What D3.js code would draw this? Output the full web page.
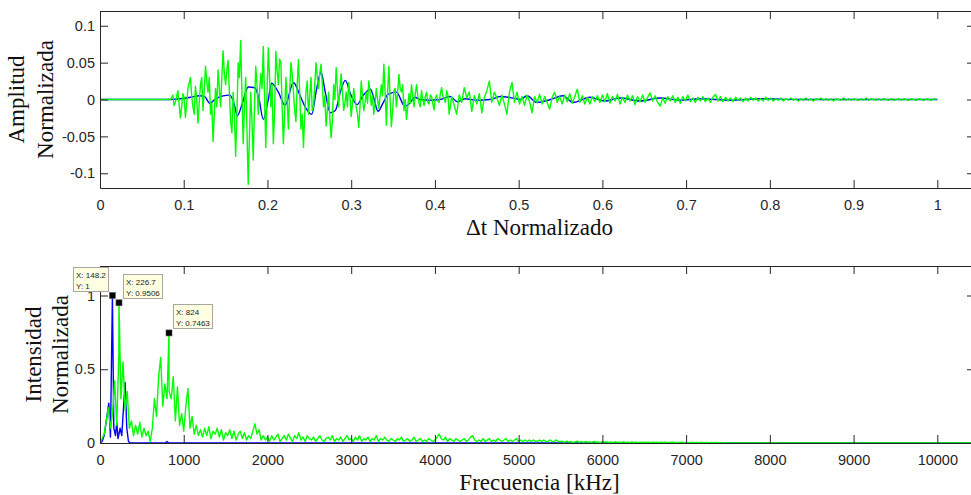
<!DOCTYPE html>
<html>
<head>
<meta charset="utf-8">
<script src="https://cdn.jsdelivr.net/npm/d3@7"></script>
<style>
  html, body { margin: 0; padding: 0; background: #fff; }
  svg { display: block; }
</style>
</head>
<body>
<svg id="fig" width="971" height="495"></svg>
<script>
// ---------- time-domain records (normalised time) ----------
// wide-band record: finely sampled burst, then a coarser decaying tail
const ampHeadStart = 0.084, ampHeadStep = 0.0015;
const ampGreenHead = [
  0, 0.002, 0.006, -0.008, -0.004, 0.004, 0.012, -0.006, -0.025, -0.010,
  0.008, 0.002, -0.024, -0.006, 0.015, 0.022, 0.030, 0.005, -0.010, -0.020,
  0.018, 0.000, -0.032, -0.005, 0.020, 0.030, -0.015, 0.012, 0.045, 0.025,
  0.010, 0.030, -0.020, -0.005, -0.057, -0.020, 0.015, -0.010, 0.040, 0.015,
  -0.010, 0.030, 0.066, 0.035, 0.020, 0.040, 0.053, 0.010, -0.030, -0.045,
  0.010, -0.020, -0.077, -0.020, 0.050, 0.030, 0.080, 0.010, -0.060, -0.010,
  0.030, -0.040, -0.115, -0.050, 0.010, -0.030, -0.082, -0.010, 0.045, 0.020,
  -0.020, 0.010, 0.035, 0.015, 0.072, 0.005, -0.065, 0.010, 0.070, 0.030,
  -0.010, 0.020, -0.060, -0.020, 0.065, 0.040, 0.020, 0.055, 0.050, -0.010,
  -0.060, -0.020, 0.030, 0.000, -0.040, 0.010, 0.050, 0.035, 0.010, -0.015,
  -0.030, 0.020, 0.054, 0.010, -0.040, -0.020, -0.065, -0.020, 0.010, 0.025,
  -0.020, 0.005, 0.030, -0.015, -0.010, 0.020, 0.050, 0.030, 0.015, 0.035,
  0.048, 0.020, -0.010, 0.005, -0.036, -0.015, 0.010, -0.025, -0.052, -0.030,
  0.020, 0.000, 0.043, 0.015, -0.010, 0.015, 0.035, 0.010, -0.015, -0.005,
  0.010, -0.010, 0.023, 0.005, -0.023, -0.005, 0.015, 0.000, -0.010, -0.020,
  -0.038, -0.010, 0.025, 0.005, -0.015, -0.005, 0.010, -0.005, 0.025, 0.010,
  -0.008, 0.005, -0.020, -0.005, 0.015, 0.000, -0.012, 0.005, 0.020, 0.005,
  0.048, 0.010, -0.035, 0.010, 0.045, 0.000, -0.037, -0.015, 0.012, 0.015,
  -0.010, 0.010, 0.034, 0.015, 0.010, 0.020, -0.015, 0.000, -0.027, -0.010,
  0.008, -0.005, 0.020, 0.005, -0.010, 0.008, 0.020, 0.005, -0.005, -0.010,
  0.012, 0.000, -0.008, 0.004, 0.010, -0.004, -0.006, 0.006, 0.004, -0.006,
  -0.014, 0.002, 0.006, -0.002, -0.004, 0.008, 0.016, 0.004, 0.002, -0.004,
  0.012, 0.006, -0.020, -0.008, 0.004
];
const ampTailStart = 0.423, ampTailStep = 0.003;
const ampGreenTail = [
  -0.008, -0.020, 0.006, -0.004, 0.016, 0.002, 0.010,
  -0.016, 0.005, -0.006, 0.008, -0.018, 0.003, 0.012, 0.025, -0.004, 0.010,
  0.002, -0.008, 0.006, -0.006, -0.020, 0.010, 0.023, -0.004, 0.010, -0.006,
  0.004, -0.008, 0.006, -0.003, -0.018, 0.004, -0.004, 0.007, -0.006, 0.004,
  -0.004, -0.013, 0.003, 0.010, -0.004, 0.004, -0.006, 0.006, -0.003, 0.008,
  -0.005, 0.004, 0.014, -0.004, 0.005, -0.006, 0.003, -0.006, 0.004, -0.003,
  0.005, -0.004, 0.006, -0.003, 0.008, -0.005, 0.004, -0.002, 0.007, -0.006,
  0.003, -0.004, 0.006, -0.002, 0.005, -0.007, 0.004, -0.003, 0.006, -0.004,
  0.003, 0.009, -0.002, 0.005, -0.004, -0.009, 0.002, -0.005, 0.004, -0.002,
  0.005, -0.004, 0.003, -0.005, 0.004, -0.002, 0.006, -0.003, 0.002, -0.004,
  0.003, -0.002, 0.004, -0.003, 0.002, -0.004, 0.003, 0.007, -0.002, 0.004,
  -0.003, 0.003, -0.002, 0.002, -0.003, 0.003, -0.001, 0.002, -0.003, 0.002,
  -0.002, 0.003, -0.001, 0.002, -0.002, 0.001, -0.002, 0.003, -0.001, 0.002,
  -0.002, 0.001, -0.001, 0.002, -0.002, 0.001, -0.001, 0.002, -0.001, 0.001,
  -0.002, 0.001, -0.001, 0.002, -0.001, 0.001, -0.002, 0.001, 0, 0.002,
  -0.001, 0.001, -0.001, 0.001, -0.002, 0.001, 0, -0.001, 0.002, -0.001,
  0.001, -0.001, 0.001, 0, -0.001, 0.001, -0.001, 0.002, -0.001, 0.001,
  0, -0.001, 0.001, -0.001, 0.001, 0, -0.001, 0.001, -0.001, 0,
  0.001, -0.001, 0.001, 0, -0.001, 0.001, 0, -0.001, 0.001, 0,
  -0.001, 0.001, 0, -0.001, 0.001, 0
];
// band-limited record
const ampBlueT = [
  0, 0.084, 0.096, 0.108, 0.119, 0.125, 0.131, 0.137, 0.147, 0.155,
  0.160, 0.164, 0.170, 0.177, 0.185, 0.190, 0.195, 0.201, 0.205, 0.213,
  0.221, 0.231, 0.239, 0.246, 0.253, 0.258, 0.264, 0.269, 0.275, 0.281,
  0.287, 0.293, 0.299, 0.307, 0.314, 0.323, 0.327, 0.332, 0.338, 0.344,
  0.354, 0.364, 0.370, 0.376, 0.382, 0.394, 0.406, 0.418, 0.427, 0.436,
  0.450, 0.466, 0.478, 0.493, 0.502, 0.510, 0.522, 0.538, 0.553, 0.565,
  0.585, 0.603, 0.621, 0.645, 0.669, 0.693, 0.717, 0.753, 0.789, 0.836,
  0.896, 1.0
];
const ampBlueV = [
  0, 0, 0.001, 0.003, 0.005, 0.004, -0.005, 0.000, 0.005, 0.006,
  -0.005, -0.022, -0.005, 0.017, 0.016, 0.000, -0.027, 0.000, 0.022, 0.010,
  -0.008, 0.023, 0.005, -0.012, -0.020, 0.010, 0.037, 0.010, -0.018, -0.015,
  0.010, 0.026, 0.008, -0.007, 0.005, 0.014, 0.002, -0.016, -0.005, 0.007,
  0.010, -0.009, -0.005, 0.003, 0.000, -0.001, 0.000, 0.004, -0.003, 0.001,
  -0.001, 0.000, 0.004, 0.002, 0.000, 0.005, -0.004, 0.000, 0.005, -0.004,
  0.003, -0.002, 0.002, -0.002, 0.002, -0.001, 0.001, -0.001, 0.001, 0.000,
  0.000, 0.000
];
const ampXTicks = [0, 0.1, 0.2, 0.3, 0.4, 0.5, 0.6, 0.7, 0.8, 0.9, 1];
const ampXLabels = ["0", "0.1", "0.2", "0.3", "0.4", "0.5", "0.6", "0.7", "0.8", "0.9", "1"];
const ampYTicks = [-0.1, -0.05, 0, 0.05, 0.1];
const ampYLabels = ["-0.1", "-0.05", "0", "0.05", "0.1"];

// ---------- spectra (kHz) ----------
const specStep = 25;      // frequency resolution of the wide-band spectrum
const specGreen = [
  0, 0.03, 0.06, 0.15, 0.24, 0.10, 0.20, 0.42, 0.12, 0.60,
  0.30, 0.55, 0.22, 0.35, 0.10, 0.15, 0.05, 0.12, 0.06, 0.14,
  0.04, 0.10, 0.05, 0.08, 0.01, 0.10, 0.30, 0.18, 0.45, 0.58,
  0.25, 0.40, 0.30, 0.35, 0.30, 0.45, 0.15, 0.38, 0.12, 0.20,
  0.08, 0.25, 0.37, 0.10, 0.18, 0.06, 0.12, 0.05, 0.09, 0.04,
  0.10, 0.05, 0.11, 0.03, 0.08, 0.06, 0.10, 0.04, 0.09, 0.02,
  0.07, 0.05, 0.09, 0.03, 0.08, 0.02, 0.06, 0.08, 0.03, 0.07,
  0.02, 0.05, 0.03, 0.08, 0.13, 0.06, 0.09, 0.02, 0.05, 0.02,
  0.04, 0.01, 0.05, 0.02, 0.04, 0.06, 0.01, 0.03, 0.05, 0.02,
  0.06, 0.03, 0.01, 0.05, 0.03, 0.07, 0.02, 0.04, 0.01, 0.05,
  0.03, 0.02, 0.04, 0.01, 0.03, 0.05, 0.02, 0.01, 0.03, 0.04,
  0.02, 0.05, 0.01, 0.03, 0.02, 0.04, 0.01, 0.03, 0.05, 0.02,
  0.03, 0.01, 0.04, 0.02, 0.05, 0.01, 0.03, 0.02, 0.04, 0.01,
  0.03, 0.02, 0.05, 0.01, 0.03, 0.02, 0.04, 0.02, 0.01, 0.03,
  0.02, 0.01, 0.03, 0.02, 0.04, 0.01, 0.02, 0.03, 0.01, 0.02,
  0.04, 0.01, 0.02, 0.03, 0.01, 0.02, 0.01, 0.03, 0.02, 0.01,
  0.02, 0.04, 0.06, 0.03, 0.02, 0.04, 0.01, 0.03, 0.02, 0.01,
  0.03, 0.02, 0.01, 0.02, 0.03, 0.01, 0.02, 0.04, 0.05, 0.02,
  0.01, 0.02, 0.01, 0.03, 0.01, 0.02, 0.03, 0.01, 0.02, 0.01,
  0.03, 0.02, 0.01, 0.02, 0.03, 0.01, 0.02, 0.01, 0.02, 0.03,
  0.01, 0.02, 0.01, 0.02, 0.01, 0.02, 0.01, 0.02, 0.01, 0.01,
  0.02, 0.01, 0.02, 0.01, 0.01, 0.02, 0.01, 0.01, 0.02, 0.01,
  0.01, 0.01, 0.005, 0.012, 0.006, 0.01, 0.004, 0.008, 0.012, 0.005,
  0.009, 0.004, 0.01, 0.006, 0.008, 0.004, 0.011, 0.005, 0.007, 0.003,
  0.009, 0.005, 0.008, 0.004, 0.007, 0.003, 0.008, 0.005, 0.006, 0.003,
  0.008, 0.004, 0.006, 0.003, 0.007, 0.004, 0.006, 0.002, 0.006, 0.003,
  0.005, 0.003, 0.006, 0.002, 0.005, 0.004, 0.006, 0.002, 0.005, 0.003,
  0.006, 0.002, 0.004, 0.003, 0.005, 0.002, 0.004, 0.003, 0.005, 0.002,
  0.004, 0.002, 0.004, 0.003, 0.002, 0.004, 0.002, 0.003, 0.004, 0.002,
  0.003, 0.002, 0.003, 0.001, 0.003, 0.002, 0.002, 0.001, 0.002, 0.001,
  0
];
const specBlueF = [0, 25, 50, 75, 105, 125, 165, 185, 200, 215, 240, 260, 300, 320, 340, 360, 780, 800, 820];
const specBlueV = [0, 0.01, 0.05, 0.15, 0.27, 0.04, 0.10, 0.05, 0.14, 0.03, 0.10, 0.05, 0.41, 0.10, 0.01, 0, 0, 0.01, 0];
const specXTicks = [0, 1000, 2000, 3000, 4000, 5000, 6000, 7000, 8000, 9000, 10000];
const specXLabels = ["0", "1000", "2000", "3000", "4000", "5000", "6000", "7000", "8000", "9000", "10000"];
const specYTicks = [0, 0.5, 1];
const specYLabels = ["0", "0.5", "1"];

// data tips on the spectrum peaks
const tipF = [148.2, 226.7, 824];
const tipY = [1, 0.9506, 0.7463];
const tipSeries = ["blue", "green", "green"];
const tipSide = ["left", "right", "right"];

// ---------- drawing ----------
const svg = d3.select("#fig");
const defs = svg.append("defs");
const AXIS = "#262626";
const GREEN = "#00ff00";
const BLUE = "#0000ff";
const TICK_FONT = "'Liberation Sans', Arial, Helvetica, sans-serif";
const LABEL_FONT = "'Liberation Serif', 'Times New Roman', serif";

function drawPanel(o) {
  const g = svg.append("g");
  const [L, R] = o.x.range();
  const [B, T] = o.y.range();
  defs.append("clipPath").attr("id", o.id)
    .append("rect").attr("x", L).attr("y", T).attr("width", R - L).attr("height", B - T);
  const plot = g.append("g").attr("clip-path", `url(#${o.id})`);
  o.series.forEach(s => {
    plot.append("path")
      .datum(s.pts)
      .attr("fill", "none")
      .attr("stroke", s.color)
      .attr("stroke-width", s.width)
      .attr("stroke-linejoin", "round")
      .attr("d", d3.line().x(d => o.x(d[0])).y(d => o.y(d[1])).curve(s.curve || d3.curveLinear));
  });

  const axes = g.append("g");
  axes.append("g").attr("transform", `translate(0,${B})`)
    .call(d3.axisBottom(o.x).tickValues(o.xTicks).tickFormat((d, i) => o.xLabels[i])
      .tickSizeInner(-8).tickSizeOuter(0).tickPadding(12));
  axes.append("g").attr("transform", `translate(0,${T})`)
    .call(d3.axisTop(o.x).tickValues(o.xTicks).tickFormat("")
      .tickSizeInner(-8).tickSizeOuter(0));
  axes.append("g").attr("transform", `translate(${L},0)`)
    .call(d3.axisLeft(o.y).tickValues(o.yTicks).tickFormat((d, i) => o.yLabels[i])
      .tickSizeInner(-8).tickSizeOuter(0).tickPadding(5));
  axes.append("g").attr("transform", `translate(${R},0)`)
    .call(d3.axisRight(o.y).tickValues(o.yTicks).tickFormat("")
      .tickSizeInner(-8).tickSizeOuter(0));
  axes.selectAll(".domain, .tick line").attr("stroke", AXIS).attr("stroke-width", 1);
  axes.selectAll("text")
    .attr("fill", AXIS)
    .style("font-family", TICK_FONT)
    .style("font-size", "14.5px");

  // axis titles
  g.append("text")
    .attr("x", (L + R) / 2 + 2).attr("y", o.xTitleY)
    .attr("text-anchor", "middle")
    .style("font-family", LABEL_FONT).style("font-size", "23px").attr("fill", "#111")
    .text(o.xTitle);
  o.yTitle.forEach((line, i) => {
    g.append("text")
      .attr("transform", `translate(${o.yTitleX[i]},${(T + B) / 2}) rotate(-90)`)
      .attr("text-anchor", "middle")
      .style("font-family", LABEL_FONT).style("font-size", "23px").attr("fill", "#111")
      .text(line);
  });
  return g;
}

// top panel: time signals
const xAmp = d3.scaleLinear().domain([0, 1.045]).range([100, 975]);
const yAmp = d3.scaleLinear().domain([-0.12, 0.12]).range([188, 11]);
const ampGreenPts = [[0, 0]]
  .concat(ampGreenHead.map((v, i) => [ampHeadStart + i * ampHeadStep, v]))
  .concat(ampGreenTail.map((v, i) => [ampTailStart + i * ampTailStep, v]));
const ampBluePts = ampBlueT.map((t, i) => [t, ampBlueV[i]]);

drawPanel({
  id: "clip-amp", x: xAmp, y: yAmp,
  xTicks: ampXTicks, xLabels: ampXLabels, yTicks: ampYTicks, yLabels: ampYLabels,
  series: [
    { pts: ampBluePts, color: BLUE, width: 1.4, curve: d3.curveMonotoneX },
    { pts: ampGreenPts, color: GREEN, width: 1.4 }
  ],
  xTitle: "\u0394t Normalizado", xTitleY: 235,
  yTitle: ["Amplitud", "Normalizada"], yTitleX: [24, 53]
});

// bottom panel: spectra
const xSpec = d3.scaleLinear().domain([0, 10450]).range([100, 975]);
const ySpec = d3.scaleLinear().domain([0, 1.2]).range([443, 266]);
const fEnd = xSpec.domain()[1];

const specGreenPts = specGreen.map((v, i) => [i * specStep, v]);
const specBluePts = specBlueF.map((f, i) => [f, specBlueV[i]]);
tipF.forEach((f, i) => {
  (tipSeries[i] === "green" ? specGreenPts : specBluePts).push([f, tipY[i]]);
});
specGreenPts.sort((a, b) => a[0] - b[0]);
specBluePts.sort((a, b) => a[0] - b[0]);
specGreenPts.push([fEnd, 0]);
specBluePts.push([fEnd, 0]);

const gSpec = drawPanel({
  id: "clip-spec", x: xSpec, y: ySpec,
  xTicks: specXTicks, xLabels: specXLabels, yTicks: specYTicks, yLabels: specYLabels,
  series: [
    { pts: specBluePts, color: BLUE, width: 1.4 },
    { pts: specGreenPts, color: GREEN, width: 1.4 }
  ],
  xTitle: "Frecuencia [kHz]", xTitleY: 490,
  yTitle: ["Intensidad", "Normalizada"], yTitleX: [41, 68]
});

// data tips
const tips = gSpec.append("g");
tipF.forEach((f, i) => {
  const mx = xSpec(f), my = ySpec(tipY[i]);
  const tg = tips.append("g");
  const box = tg.append("rect");
  const l1 = tg.append("text").text("X: " + f);
  const l2 = tg.append("text").text("Y: " + tipY[i]);
  [l1, l2].forEach(t => t.style("font-family", TICK_FONT).style("font-size", "8px").attr("fill", "#1a1a1a"));
  const w = Math.max(l1.node().getComputedTextLength(), l2.node().getComputedTextLength()) + 5;
  const h = 24;
  const bx = tipSide[i] === "left" ? mx - 5 - w : mx + 4;
  const by = my - 5 - h;
  box.attr("x", Math.round(bx) + 0.5).attr("y", Math.round(by) + 0.5)
    .attr("width", Math.round(w)).attr("height", h)
    .attr("fill", "#ffffe1").attr("stroke", "#a8a8a0").attr("stroke-width", 1);
  l1.attr("x", Math.round(bx) + 3).attr("y", Math.round(by) + 10.5);
  l2.attr("x", Math.round(bx) + 3).attr("y", Math.round(by) + 21.5);
  tg.append("rect")
    .attr("x", mx - 3).attr("y", my - 3).attr("width", 6).attr("height", 6)
    .attr("fill", "#000").attr("stroke", "#555").attr("stroke-width", 0.6);
});
</script>
</body>
</html>
